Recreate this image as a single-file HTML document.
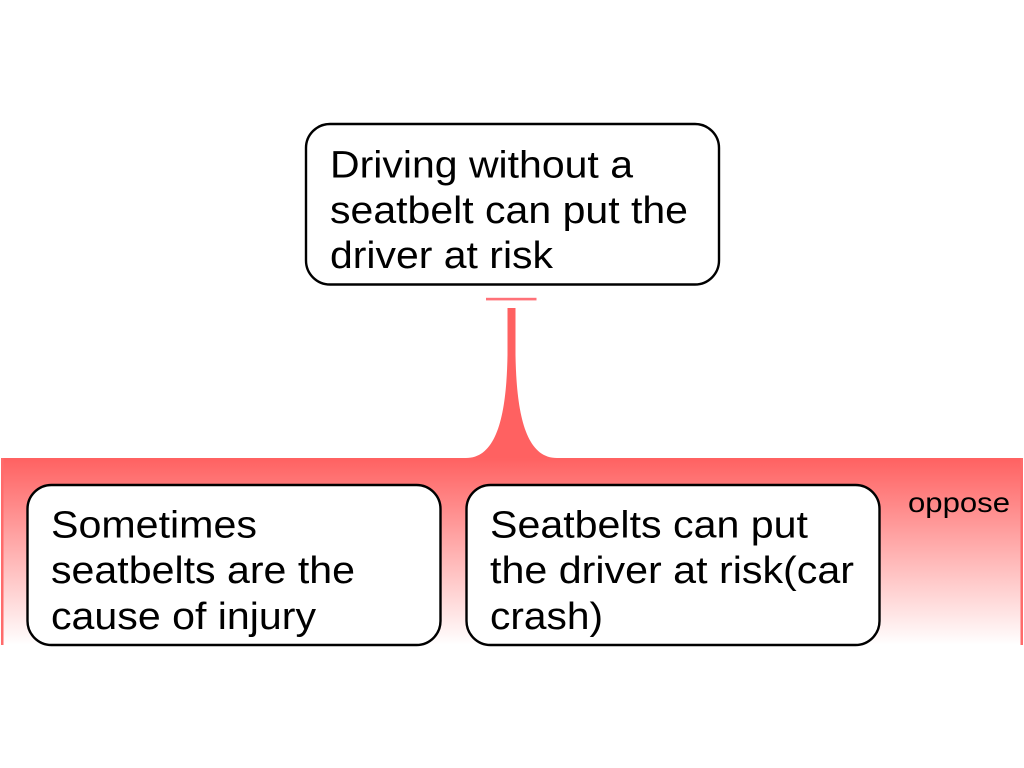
<!DOCTYPE html>
<html>
<head>
<meta charset="utf-8">
<style>
html,body{margin:0;padding:0;background:#fff;width:1024px;height:768px;overflow:hidden}
svg{display:block}
text{font-family:"Liberation Sans",sans-serif;fill:#000}
</style>
</head>
<body>
<svg width="1024" height="768" viewBox="0 0 1024 768" xmlns="http://www.w3.org/2000/svg">
<defs>
<linearGradient id="g" x1="0" y1="0" x2="0" y2="1">
<stop offset="0" stop-color="#ff6161"/>
<stop offset="1" stop-color="#ffffff"/>
</linearGradient>
</defs>
<rect x="0" y="0" width="1024" height="768" fill="#fff"/>
<rect x="1" y="458" width="1022" height="187" fill="url(#g)"/>
<rect x="1" y="458" width="2.500" height="187" fill="#ff6b6b"/>
<rect x="1020.500" y="458" width="2.500" height="187" fill="#ff6b6b"/>
<path d="M507.500 308 L515.500 308 L515.500 355 C516.500 415 526 458 557 458 L466 458 C497 458 506.500 415 507.500 355 Z" fill="#ff6161"/>
<rect x="486" y="297.800" width="50.500" height="2.600" fill="#ff7178"/>
<rect x="306" y="124" width="413" height="160.500" rx="24" ry="24" fill="#fff" stroke="#000" stroke-width="2.400"/>
<rect x="27.500" y="485" width="413" height="160" rx="24" ry="24" fill="#fff" stroke="#000" stroke-width="2.400"/>
<rect x="466.500" y="485" width="413" height="160" rx="24" ry="24" fill="#fff" stroke="#000" stroke-width="2.400"/>
<g font-size="38" lengthAdjust="spacingAndGlyphs">
<text x="330" y="177.500" textLength="303" lengthAdjust="spacingAndGlyphs">Driving without a</text>
<text x="330" y="223" textLength="358" lengthAdjust="spacingAndGlyphs">seatbelt can put the</text>
<text x="330" y="268" textLength="223" lengthAdjust="spacingAndGlyphs">driver at risk</text>
<text x="51" y="537.500" textLength="206" lengthAdjust="spacingAndGlyphs">Sometimes</text>
<text x="51" y="583" textLength="304" lengthAdjust="spacingAndGlyphs">seatbelts are the</text>
<text x="51" y="629" textLength="265" lengthAdjust="spacingAndGlyphs">cause of injury</text>
<text x="490" y="537.500" textLength="318" lengthAdjust="spacingAndGlyphs">Seatbelts can put</text>
<text x="490" y="583" textLength="364" lengthAdjust="spacingAndGlyphs">the driver at risk(car</text>
<text x="490" y="629" textLength="113" lengthAdjust="spacingAndGlyphs">crash)</text>
</g>
<text x="908" y="512" font-size="28" textLength="102" lengthAdjust="spacingAndGlyphs">oppose</text>
</svg>
</body>
</html>
